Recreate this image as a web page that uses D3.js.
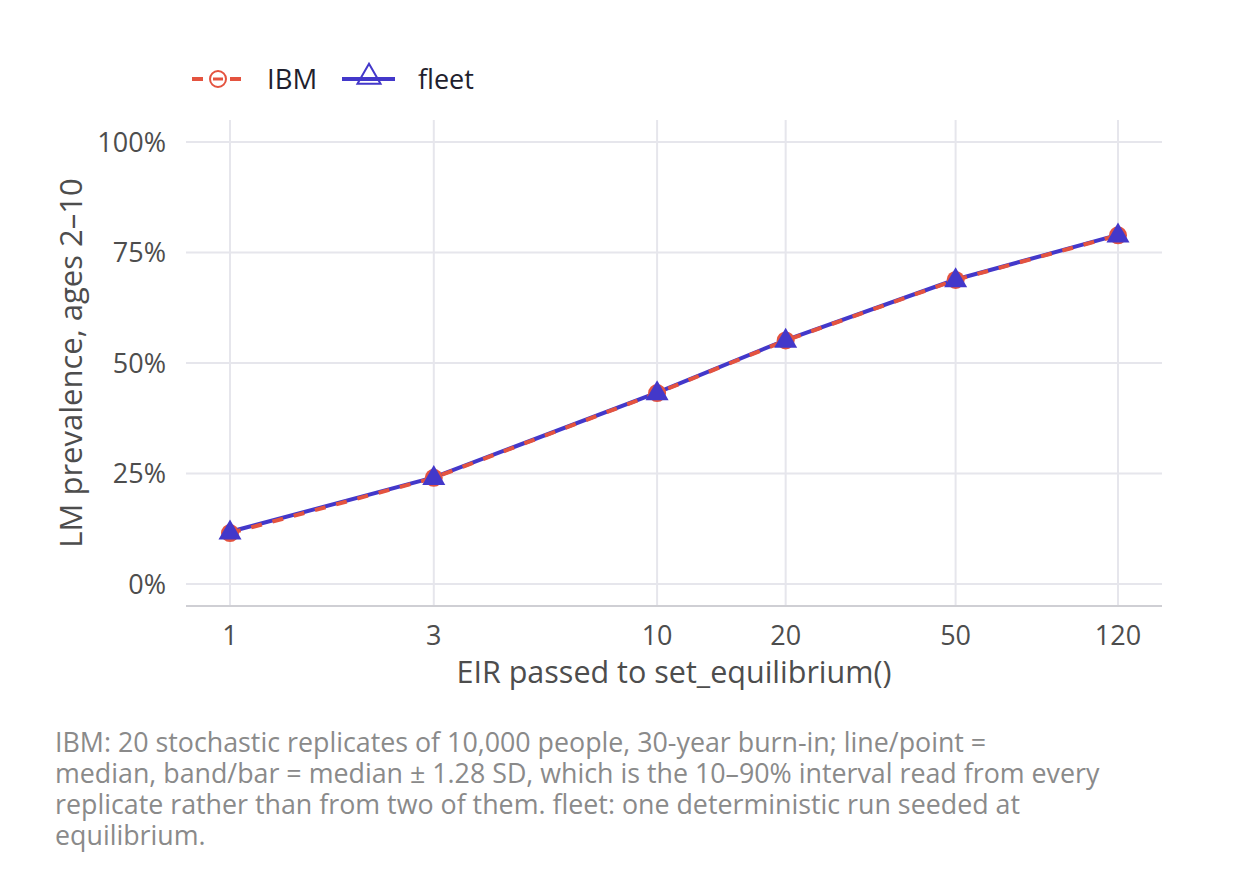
<!DOCTYPE html>
<html>
<head>
<meta charset="utf-8">
<script src="https://cdn.jsdelivr.net/npm/d3@7"></script>
<style>
  body { margin: 0; background: #fff; }
  text { font-family: "Open Sans", "Noto Sans", sans-serif; }
</style>
</head>
<body>
<div id="chart"></div>
<script>
// EIR values and prevalence (fraction)
const eir = [1, 3, 10, 20, 50, 120];
const ibm = [0.115, 0.240, 0.432, 0.551, 0.688, 0.789];
const fleet = [0.118, 0.241, 0.433, 0.552, 0.689, 0.790];
const xTicks = [1, 3, 10, 20, 50, 120];
const yTicks = [0, 0.25, 0.5, 0.75, 1];
const captionLines = [
  "IBM: 20 stochastic replicates of 10,000 people, 30-year burn-in; line/point =",
  "median, band/bar = median \u00b1 1.28 SD, which is the 10\u201390% interval read from every",
  "replicate rather than from two of them. fleet: one deterministic run seeded at",
  "equilibrium."
];

const width = 1240, height = 880;
const red = "#e4533f", blue = "#4338ca";

const svg = d3.select("#chart").append("svg")
  .attr("width", width).attr("height", height);

// panel area
const panelLeft = 186, panelRight = 1162, panelTop = 120, panelBottom = 606;

// log x scale with 5% expansion either side
const lx = d3.scaleLinear().domain([0, Math.log10(120)]).range([230, 1118]);
const x = v => lx(Math.log10(v));
const y = d3.scaleLinear().domain([-0.05, 1.05]).range([panelBottom, panelTop]);

// grid
svg.append("g").selectAll("line").data(yTicks).join("line")
  .attr("x1", panelLeft).attr("x2", panelRight)
  .attr("y1", d => y(d)).attr("y2", d => y(d))
  .attr("stroke", "#e6e6ec").attr("stroke-width", 2);
svg.append("g").selectAll("line").data(xTicks).join("line")
  .attr("x1", d => x(d)).attr("x2", d => x(d))
  .attr("y1", panelTop).attr("y2", panelBottom)
  .attr("stroke", "#e6e6ec").attr("stroke-width", 2);

// bottom axis line
svg.append("line")
  .attr("x1", panelLeft).attr("x2", panelRight).attr("y1", panelBottom).attr("y2", panelBottom)
  .attr("stroke", "#cfcfd4").attr("stroke-width", 2);

// tick labels
svg.append("g").selectAll("text").data(yTicks).join("text")
  .attr("x", 166).attr("y", d => y(d)).attr("dy", "0.36em")
  .attr("text-anchor", "end").attr("font-size", 27).attr("fill", "#4d4d4d")
  .text(d => d3.format(".0%")(d));
svg.append("g").selectAll("text").data(xTicks).join("text")
  .attr("x", d => x(d)).attr("y", 645)
  .attr("text-anchor", "middle").attr("font-size", 27).attr("fill", "#4d4d4d")
  .text(d => d);

// axis titles
svg.append("text")
  .attr("x", (panelLeft + panelRight) / 2).attr("y", 683)
  .attr("text-anchor", "middle").attr("font-size", 30.5).attr("fill", "#4d4d4d")
  .text("EIR passed to set_equilibrium()");
svg.append("text")
  .attr("transform", `translate(82, ${(panelTop + panelBottom) / 2}) rotate(-90)`)
  .attr("text-anchor", "middle").attr("font-size", 31).attr("fill", "#4d4d4d")
  .text("LM prevalence, ages 2\u201310");

// lines
const line = d3.line().x(d => x(d[0])).y(d => y(d[1]));
svg.append("path").datum(d3.zip(eir, fleet))
  .attr("d", line).attr("fill", "none")
  .attr("stroke", blue).attr("stroke-width", 4);
svg.append("path").datum(d3.zip(eir, ibm))
  .attr("d", line).attr("fill", "none")
  .attr("stroke", red).attr("stroke-width", 4).attr("stroke-dasharray", "11,11");

// points
svg.append("g").selectAll("circle").data(d3.zip(eir, ibm)).join("circle")
  .attr("cx", d => x(d[0])).attr("cy", d => y(d[1])).attr("r", 9)
  .attr("fill", red);
const tri = d3.symbol().type(d3.symbolTriangle).size(230);
svg.append("g").selectAll("path").data(d3.zip(eir, fleet)).join("path")
  .attr("transform", d => `translate(${x(d[0])},${y(d[1]) + 1})`)
  .attr("d", tri).attr("fill", blue);

// legend
const lg = svg.append("g");
lg.append("line").attr("x1", 192).attr("x2", 244).attr("y1", 79).attr("y2", 79)
  .attr("stroke", red).attr("stroke-width", 4).attr("stroke-dasharray", "11,8");
lg.append("circle").attr("cx", 218).attr("cy", 79).attr("r", 8)
  .attr("fill", "#fff").attr("stroke", red).attr("stroke-width", 2);
lg.append("line").attr("x1", 213).attr("x2", 223).attr("y1", 79).attr("y2", 79)
  .attr("stroke", red).attr("stroke-width", 3);
lg.append("text").attr("x", 267).attr("y", 79).attr("dy", "0.36em")
  .attr("font-size", 27.5).attr("fill", "#1f1f2e").text("IBM");
lg.append("line").attr("x1", 342).attr("x2", 395).attr("y1", 79).attr("y2", 79)
  .attr("stroke", blue).attr("stroke-width", 4);
lg.append("path").attr("transform", "translate(369,77)")
  .attr("d", d3.symbol().type(d3.symbolTriangle).size(230))
  .attr("fill", "none").attr("stroke", blue).attr("stroke-width", 2);
lg.append("text").attr("x", 418).attr("y", 79).attr("dy", "0.36em")
  .attr("font-size", 27).attr("fill", "#1f1f2e").text("fleet");

// caption
svg.append("g").selectAll("text").data(captionLines).join("text")
  .attr("x", 55).attr("y", (d, i) => 752 + i * 31)
  .attr("font-size", 26.8).attr("fill", "#8a8a8a")
  .text(d => d);
</script>
</body>
</html>
